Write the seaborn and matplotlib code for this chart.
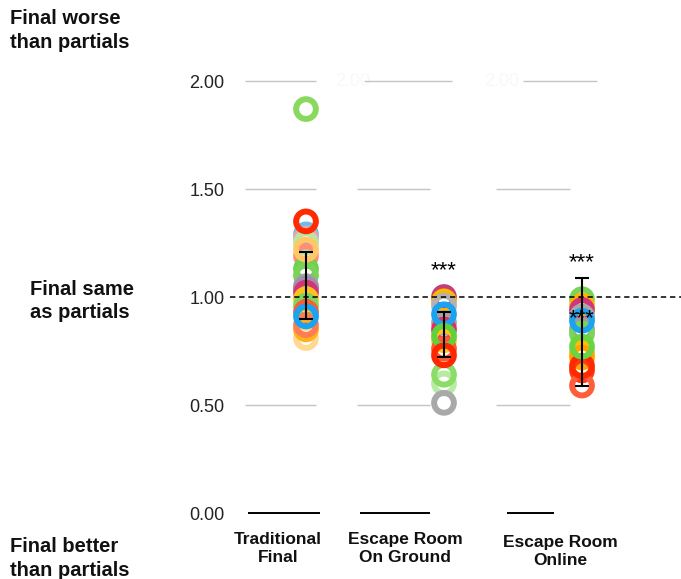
import matplotlib
matplotlib.use("Agg")
import matplotlib.pyplot as plt
import matplotlib.transforms as mtransforms
import numpy as np
import pandas as pd
import seaborn as sns

# Ratio of final-exam grade to average partial grade, one ring per student
groups = ["Traditional\nFinal", "Escape Room\nOn Ground", "Escape Room\nOnline"]

trad_scores = [1.87, 1.29, 1.27, 1.25, 1.19, 1.13, 1.10, 1.05, 1.04, 1.02,
               0.99, 0.96, 0.93, 0.81, 0.85, 0.87, 1.22, 1.35, 0.91]
trad_colors = ["#8ad95f", "#74b9ee", "#f2a2a6", "#b9e6a2", "#ff8d78", "#6fd24c",
               "#78d456", "#a3a3a3", "#a08fab", "#d2357a", "#ffc21a", "#7bd65a",
               "#ff5a36", "#ffd98f", "#ffb21c", "#ff7c55", "#ffc766", "#ff2a00",
               "#1aa3f0"]

ground_scores = [1.00, 0.98, 0.96, 0.88, 0.85, 0.80, 0.76, 0.60, 0.64, 0.51,
                 0.92, 0.82, 0.73]
ground_colors = ["#c2407a", "#ffb800", "#b2b2b2", "#a5a5a5", "#e0306a", "#ffc31a",
                 "#ff5a36", "#b7eaa2", "#8cdc68", "#a9a9a9", "#1aa3f0", "#5fd13a",
                 "#ff2600"]

online_scores = [0.99, 0.96, 0.94, 0.91, 0.85, 0.83, 0.74, 0.72, 0.66, 0.59,
                 0.68, 0.89, 0.77]
online_colors = ["#7ad458", "#ffb300", "#d2357a", "#a8a8a8", "#9e9e9e", "#7ad458",
                 "#ffc000", "#ffa500", "#ff3a1a", "#ff5e3a", "#ff2a00", "#1aa3f0",
                 "#6ad443"]

# Error bar extents (low, high) per group
err_low = [0.90, 0.72, 0.59]
err_high = [1.21, 0.93, 1.09]

significance = ["", "***", "***"]

yticks = [0.0, 0.5, 1.0, 1.5, 2.0]

rows = []
palette = {}
for g, scores, cols in zip(groups, [trad_scores, ground_scores, online_scores],
                           [trad_colors, ground_colors, online_colors]):
    for i, (s, c) in enumerate(zip(scores, cols)):
        key = f"{g}-{i}"
        rows.append({"group": g, "score": s, "student": key})
        palette[key] = c
df = pd.DataFrame(rows)

sns.set_theme(style="white")
plt.rcParams["font.family"] = ["Liberation Sans", "DejaVu Sans"]

W, H = 681, 579
fig = plt.figure(figsize=(W / 100, H / 100), dpi=100)
ax_left, ax_right, ax_top, ax_bottom = 230, 681, 60, 522
ax = fig.add_axes([ax_left / W, 1 - ax_bottom / H,
                   (ax_right - ax_left) / W, (ax_bottom - ax_top) / H])

sns.stripplot(data=df, x="group", y="score", hue="student", palette=palette,
              order=groups, jitter=False, dodge=False, legend=False,
              size=14.2, linewidth=0, ax=ax, zorder=3)
# Open rings: move fill colour onto the edge
for coll in ax.collections:
    fc = coll.get_facecolors()
    coll.set_edgecolors(fc)
    coll.set_facecolors("none")
    coll.set_linewidth(4.3)

px_per_unit_y = 216
px_per_unit_x = 138
ax.set_ylim(-(ax_bottom - 513) / px_per_unit_y, 2.0 + (81 - ax_top) / px_per_unit_y)
x0 = -(306 - ax_left) / px_per_unit_x
ax.set_xlim(x0, x0 + (ax_right - ax_left) / px_per_unit_x)

# Short grid segments next to each group
grid_spans = [(-0.44, 0.07), (-0.63, -0.10), (-0.62, -0.09)]
top_spans = [(-0.44, 0.07), (-0.58, 0.06), (-0.43, 0.11)]
zero_spans = [(-0.42, 0.10), (-0.61, -0.10), (-0.54, -0.20)]
for i, (lo, hi) in enumerate(grid_spans):
    for yv in [0.5, 1.5]:
        ax.hlines(yv, i + lo, i + hi, color="#c4c4c4", lw=1.0, zorder=1)
for i, (lo, hi) in enumerate(top_spans):
    ax.hlines(2.0, i + lo, i + hi, color="#c4c4c4", lw=1.0, zorder=1)
for i, (lo, hi) in enumerate(zero_spans):
    ax.hlines(0.0, i + lo, i + hi, color="black", lw=1.4, zorder=1)

# Reference line: final grade equals partials
ax.axhline(1.0, color="black", lw=1.1, ls=(0, (3.5, 2.5)), zorder=4)

# Error bars
xs = np.arange(len(groups))
mid = (np.array(err_low) + np.array(err_high)) / 2
ax.errorbar(xs, mid, yerr=[mid - np.array(err_low), np.array(err_high) - mid],
            fmt="none", ecolor="black", elinewidth=1.5, capsize=5,
            capthick=1.5, zorder=5)

# Significance marks
star_kw = dict(ha="center", va="center", fontsize=16, color="black", zorder=6)
ax.text(1, 1.12, significance[1], **star_kw)
ax.text(2, 1.16, significance[2], **star_kw)
ax.text(2, 0.90, significance[2], **star_kw)

# Faint repeated axis labels
for xv in [0.34, 1.42]:
    ax.text(xv, 2.0, "2.00", ha="center", va="center", fontsize=13,
            color="#f8f8f8", zorder=0)

ax.set_yticks(yticks)
ax.set_yticklabels([f"{v:.2f}" for v in yticks], fontsize=13, color="#222222")
ax.tick_params(axis="y", length=0, pad=4)
ax.set_xticks(xs)
ax.set_xticklabels(groups, fontsize=12.5, fontweight="bold", color="#111111",
                   linespacing=1.3)
ax.tick_params(axis="x", length=0, pad=7)
offsets = [(-28, 0), (-39, 0), (-22, -3)]
for lab, (dx, dy) in zip(ax.get_xticklabels(), offsets):
    lab.set_transform(lab.get_transform() +
                      mtransforms.ScaledTranslation(dx / 100, dy / 100,
                                                    fig.dpi_scale_trans))
ax.set_xlabel("")
ax.set_ylabel("")
for sp in ax.spines.values():
    sp.set_visible(False)
ax.grid(False)

side_kw = dict(fontsize=14.5, fontweight="bold", color="#111111",
               linespacing=1.3, ha="left")
fig.text(10 / W, 1 - 9 / H, "Final worse\nthan partials", va="top", **side_kw)
fig.text(30 / W, 1 - 301 / H, "Final same\nas partials", va="center", **side_kw)
fig.text(10 / W, 1 - 537 / H, "Final better\nthan partials", va="top", **side_kw)

fig.savefig("out.png", dpi=100)
